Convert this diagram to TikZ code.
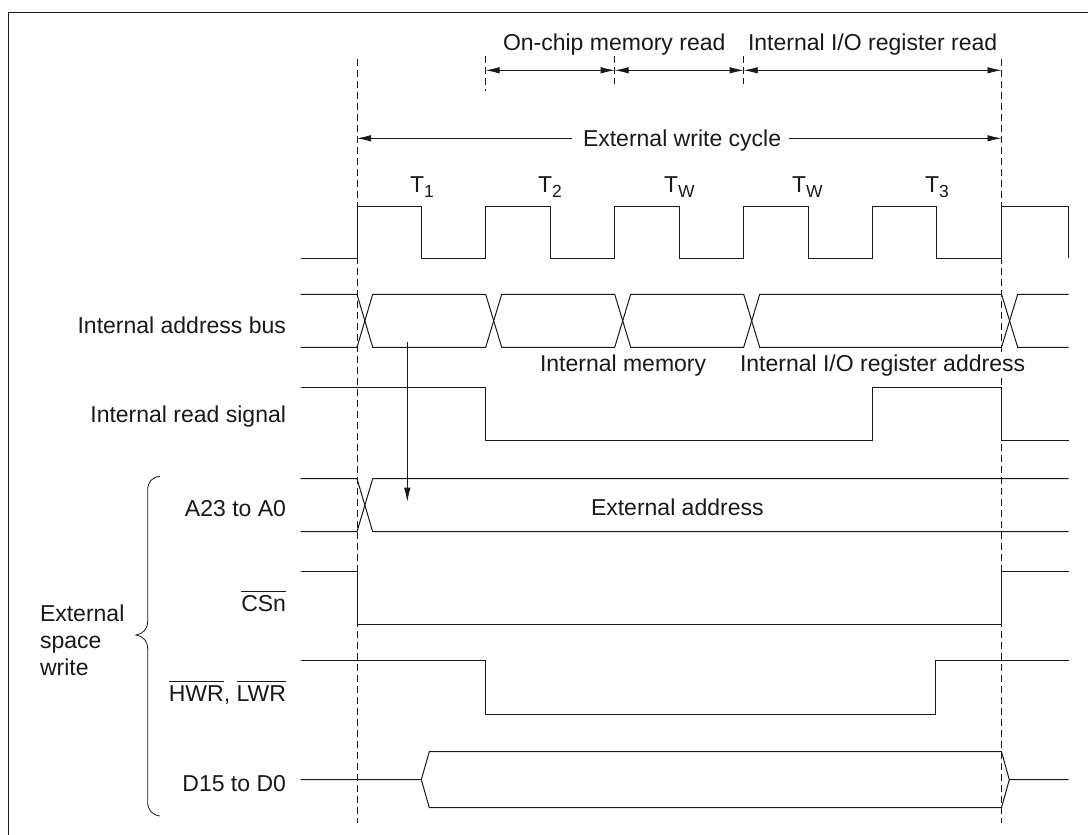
\documentclass[tikz,border=0pt]{standalone}
\usepackage{fontspec}
\setmainfont{Liberation Sans}
\usetikzlibrary{arrows.meta}
\definecolor{ink}{RGB}{25,25,25}
\tikzset{
  wave/.style={draw=ink,line width=1bp,line join=miter},
  guide/.style={draw=ink,line width=0.8bp,dash pattern=on 6.5bp off 4.5bp},
  dim/.style={draw=ink,line width=0.8bp},
  tip/.style={-{Latex[length=14bp,width=6.5bp]}},
  twotip/.style={{Latex[length=14bp,width=6.5bp]}-{Latex[length=14bp,width=6.5bp]}},
  lbl/.style={inner sep=0pt,outer sep=0pt,font=\fontsize{23bp}{27bp}\selectfont,text=ink},
  lr/.style={lbl,anchor=base east},
  ll/.style={lbl,anchor=base west}
}
\newcommand{\ovl}[1]{$\overline{\hbox{\rule{0pt}{19bp}#1}}$}
\newcommand{\subt}[1]{T\raisebox{-5bp}{\fontsize{17.5bp}{18bp}\selectfont #1}}
\begin{document}
\begin{tikzpicture}[x=1bp,y=-1bp]
\useasboundingbox (0,0) rectangle (1088,835);
% frame
\draw[draw=ink,line width=1bp] (8.3,835) -- (8.3,12.5) -- (1088,12.5);
% guides
\draw[guide] (357,59) -- (357,823);
\draw[guide] (1001.5,59) -- (1001.5,823);
\draw[guide] (485.5,56) -- (485.5,91);
\draw[guide] (614.7,56) -- (614.7,84);
\draw[guide] (743.7,56) -- (743.7,84);
% named anchors for dimension arrows
\coordinate (a0) at (485.5,70.3);
\coordinate (a1) at (614.7,70.3);
\coordinate (a2) at (743.7,70.3);
\coordinate (a3) at (1001.5,70.3);
\coordinate (c0) at (357,138.3);
\coordinate (c1) at (1001.5,138.3);
\coordinate (cl) at (571.7,138.3);
\coordinate (cr) at (789.3,138.3);
\draw[dim,twotip] (a0) -- (a1);
\draw[dim,twotip] (a1) -- (a2);
\draw[dim,twotip] (a2) -- (a3);
\draw[dim,tip] (cl) -- (c0);
\draw[dim,tip] (cr) -- (c1);
% clock
\draw[wave] (300.7,258.3) -- (357,258.3) -- (357,206) -- (421.7,206) -- (421.7,258.3)
  -- (485.7,258.3) -- (485.7,206) -- (550,206) -- (550,258.3)
  -- (614.7,258.3) -- (614.7,206) -- (679.7,206) -- (679.7,258.3)
  -- (743.7,258.3) -- (743.7,206) -- (808.7,206) -- (808.7,258.3)
  -- (872.3,258.3) -- (872.3,206) -- (936.7,206) -- (936.7,258.3)
  -- (1001.5,258.3) -- (1001.5,206) -- (1068.7,206) -- (1068.7,258.3);
% internal address bus
\draw[wave] (300.7,294.3) -- (357,294.3) -- (372.7,347.3) -- (485.7,347.3) -- (501.7,294.3)
  -- (614.7,294.3) -- (630.7,347.3) -- (743.7,347.3) -- (759.7,294.3) -- (1001.5,294.3)
  -- (1017.7,347.3) -- (1068.7,347.3);
\draw[wave] (300.7,347.3) -- (357,347.3) -- (372.7,294.3) -- (485.7,294.3) -- (501.7,347.3)
  -- (614.7,347.3) -- (630.7,294.3) -- (743.7,294.3) -- (759.7,347.3) -- (1001.5,347.3)
  -- (1017.7,294.3) -- (1068.7,294.3);
% internal read
\draw[wave] (300.7,387.3) -- (485.7,387.3) -- (485.7,440) -- (872.3,440) -- (872.3,387.3)
  -- (1001.5,387.3) -- (1001.5,440) -- (1068.7,440);
% A23
\draw[wave] (300.7,478.7) -- (357,478.7) -- (372.7,531.7) -- (1068.7,531.7);
\draw[wave] (300.7,531.7) -- (357,531.7) -- (372.7,478.7) -- (1068.7,478.7);
% CSn
\draw[wave] (300.7,571.7) -- (357,571.7) -- (357,624.3) -- (1001.5,624.3) -- (1001.5,571.7) -- (1068.7,571.7);
% HWR
\draw[wave] (300.7,660.7) -- (485.7,660.7) -- (485.7,714) -- (935.7,714) -- (935.7,660.7) -- (1068.7,660.7);
% D
\draw[wave] (300.7,779.7) -- (421.3,779.7) -- (429.3,751.7) -- (1001.5,751.7) -- (1009.3,779.7)
  -- (1068.7,779.7) (421.3,779.7) -- (429.3,807.7) -- (1001.5,807.7) -- (1009.3,779.7);
% causal arrow
\coordinate (ca) at (407.3,341.7);
\coordinate (cb) at (407.3,501.7);
\draw[dim,tip] (ca) -- (cb);
% brace
\draw[dim] (160,476.3) .. controls (152,477) and (147.7,482) .. (147.7,490)
  -- (147.7,621) .. controls (147.7,629) and (143,634) .. (136,635)
  .. controls (143,636) and (147.7,641) .. (147.7,649)
  -- (147.7,802) .. controls (147.7,810) and (152,815) .. (160,816);
% labels
\node[ll] (t1) at (503,50) {On-chip memory read};
\node[ll] (t2) at (748,50) {Internal I/O register read};
\node[ll] (t3) at (583,146) {External write cycle};
\node[ll] (k1) at (410,192.3) {\subt{1}};
\node[ll] (k2) at (538,192.3) {\subt{2}};
\node[ll] (k3) at (664,192.3) {\subt{W}};
\node[ll] (k4) at (792,192.3) {\subt{W}};
\node[ll] (k5) at (925,192.3) {\subt{3}};
\node[lr] (s1) at (286,333.3) {Internal address bus};
\node[lr] (s2) at (286,422.3) {Internal read signal};
\node[lr] (s3) at (286,516.7) {A23 to A0};
\node[lr] (s4) at (286,611.7) {\ovl{CSn}};
\node[lr] (s5) at (286,701.7) {\ovl{HWR}, \ovl{LWR}};
\node[lr] (s6) at (286,791) {D15 to D0};
\node[ll] (e1) at (40,621.3) {External};
\node[ll] (e2) at (40,648) {space};
\node[ll] (e3) at (40,675) {write};
\node[ll] (m1) at (540,371) {Internal memory};
\node[ll,fill=white] (m2) at (740,371) {Internal I/O register address};
\node[ll] (m3) at (591,515) {External address};
\end{tikzpicture}
\end{document}
